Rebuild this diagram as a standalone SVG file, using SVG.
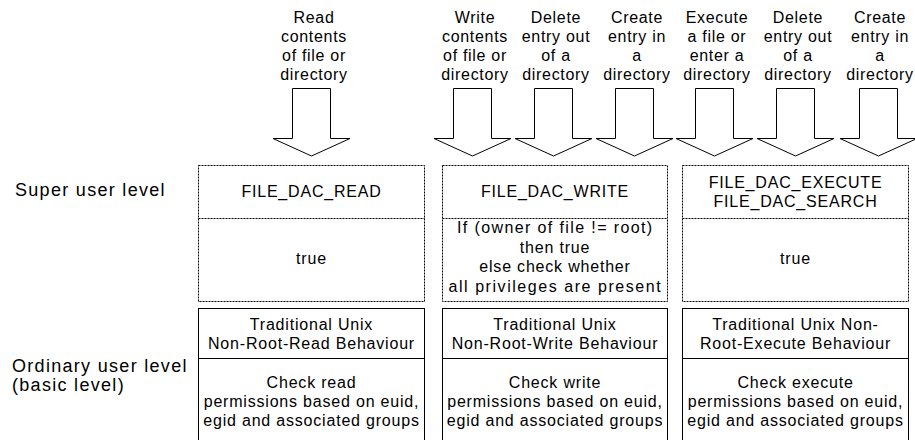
<svg xmlns="http://www.w3.org/2000/svg" width="915" height="440" viewBox="0 0 915 440">
  <style>
    text { font-family: "Liberation Sans", Arial, sans-serif; fill: #000; text-anchor: middle; }
    .op { font-size: 16px; letter-spacing: 0.7px; }
    .bx { font-size: 16px; letter-spacing: 0.8px; }
    .row { font-size: 18px; letter-spacing: 1.3px; text-anchor: start; }
    .dash { fill: #fff; stroke: #000; stroke-width: 1; stroke-dasharray: 2 1; }
    .dline { fill: none; stroke: #000; stroke-width: 1; stroke-dasharray: 2 1; }
    .solid { fill: #fff; stroke: #000; stroke-width: 1; }
    .sline { fill: none; stroke: #000; stroke-width: 1; }
    .arrow { fill: #fff; stroke: #000; stroke-width: 1; stroke-linejoin: miter; }
  </style>
  <defs>
    <!-- block arrow, centred on x = 0 -->
    <path id="blockArrow" d="M-19,88.5 H19 V138.5 H38.5 L0,156 L-38.5,138.5 H-19 Z"/>
  </defs>

  <rect width="915" height="440" fill="#fff"/>

  <!-- row captions -->
  <g id="row-super">
    <text class="row" x="15" y="196">Super user level</text>
  </g>
  <g id="row-basic">
    <text class="row" x="12" y="372">Ordinary user level</text>
    <text class="row" x="12" y="391">(basic level)</text>
  </g>

  <!-- operation labels -->
  <g id="op-read">
    <text class="op" x="314" y="23">Read</text>
    <text class="op" x="314" y="42">contents</text>
    <text class="op" x="314" y="61">of file or</text>
    <text class="op" x="314" y="80">directory</text>
  </g>
  <g id="op-write">
    <text class="op" x="475" y="23">Write</text>
    <text class="op" x="475" y="42">contents</text>
    <text class="op" x="475" y="61">of file or</text>
    <text class="op" x="475" y="80">directory</text>
  </g>
  <g id="op-delete-w">
    <text class="op" x="556" y="23">Delete</text>
    <text class="op" x="556" y="42">entry out</text>
    <text class="op" x="556" y="61">of a</text>
    <text class="op" x="556" y="80">directory</text>
  </g>
  <g id="op-create-w">
    <text class="op" x="637" y="23">Create</text>
    <text class="op" x="637" y="42">entry in</text>
    <text class="op" x="637" y="61">a</text>
    <text class="op" x="637" y="80">directory</text>
  </g>
  <g id="op-execute">
    <text class="op" x="717" y="23">Execute</text>
    <text class="op" x="717" y="42">a file or</text>
    <text class="op" x="717" y="61">enter a</text>
    <text class="op" x="717" y="80">directory</text>
  </g>
  <g id="op-delete-x">
    <text class="op" x="798" y="23">Delete</text>
    <text class="op" x="798" y="42">entry out</text>
    <text class="op" x="798" y="61">of a</text>
    <text class="op" x="798" y="80">directory</text>
  </g>
  <g id="op-create-x">
    <text class="op" x="880" y="23">Create</text>
    <text class="op" x="880" y="42">entry in</text>
    <text class="op" x="880" y="61">a</text>
    <text class="op" x="880" y="80">directory</text>
  </g>

  <!-- block arrows from operations into the privilege boxes -->
  <g id="connectors" class="arrow">
    <use href="#blockArrow" x="311.5"/>
    <use href="#blockArrow" x="472.5"/>
    <use href="#blockArrow" x="553.5"/>
    <use href="#blockArrow" x="634.5"/>
    <use href="#blockArrow" x="714.5"/>
    <use href="#blockArrow" x="795.5"/>
    <use href="#blockArrow" x="878.5"/>
  </g>

  <!-- super user level (dotted) -->
  <g id="su-read">
    <rect class="dash" x="198.5" y="165.5" width="226" height="136"/>
    <line class="dline" x1="198.5" y1="218.5" x2="424.5" y2="218.5"/>
    <text class="bx" x="311.5" y="197" letter-spacing="1.1">FILE_DAC_READ</text>
    <text class="bx" x="311.5" y="264">true</text>
  </g>
  <g id="su-write">
    <rect class="dash" x="442.5" y="165.5" width="225" height="136"/>
    <line class="dline" x1="442.5" y1="218.5" x2="667.5" y2="218.5"/>
    <text class="bx" x="555" y="197" letter-spacing="1.1">FILE_DAC_WRITE</text>
    <text class="bx" x="555" y="233" textLength="196" lengthAdjust="spacing">If (owner of file != root)</text>
    <text class="bx" x="555" y="253">then true</text>
    <text class="bx" x="555" y="272">else check whether</text>
    <text class="bx" x="555" y="292" textLength="213" lengthAdjust="spacing">all privileges are present</text>
  </g>
  <g id="su-execute">
    <rect class="dash" x="682.5" y="165.5" width="226" height="136"/>
    <line class="dline" x1="682.5" y1="218.5" x2="908.5" y2="218.5"/>
    <text class="bx" x="795.5" y="188" letter-spacing="1.1">FILE_DAC_EXECUTE</text>
    <text class="bx" x="795.5" y="207" letter-spacing="1.1">FILE_DAC_SEARCH</text>
    <text class="bx" x="795.5" y="264">true</text>
  </g>

  <!-- ordinary user level (solid) -->
  <g id="basic-read">
    <rect class="solid" x="198.5" y="308.5" width="226" height="140"/>
    <line class="sline" x1="198.5" y1="358.5" x2="424.5" y2="358.5"/>
    <text class="bx" x="311.5" y="330">Traditional Unix</text>
    <text class="bx" x="311.5" y="349">Non-Root-Read Behaviour</text>
    <text class="bx" x="311.5" y="388">Check read</text>
    <text class="bx" x="311.5" y="407">permissions based on euid,</text>
    <text class="bx" x="311.5" y="426">egid and associated groups</text>
  </g>
  <g id="basic-write">
    <rect class="solid" x="442.5" y="308.5" width="225" height="140"/>
    <line class="sline" x1="442.5" y1="358.5" x2="667.5" y2="358.5"/>
    <text class="bx" x="555" y="330">Traditional Unix</text>
    <text class="bx" x="555" y="349">Non-Root-Write Behaviour</text>
    <text class="bx" x="555" y="388">Check write</text>
    <text class="bx" x="555" y="407">permissions based on euid,</text>
    <text class="bx" x="555" y="426">egid and associated groups</text>
  </g>
  <g id="basic-execute">
    <rect class="solid" x="682.5" y="308.5" width="226" height="140"/>
    <line class="sline" x1="682.5" y1="358.5" x2="908.5" y2="358.5"/>
    <text class="bx" x="795.5" y="330">Traditional Unix Non-</text>
    <text class="bx" x="795.5" y="349">Root-Execute Behaviour</text>
    <text class="bx" x="795.5" y="388">Check execute</text>
    <text class="bx" x="795.5" y="407">permissions based on euid,</text>
    <text class="bx" x="795.5" y="426">egid and associated groups</text>
  </g>
</svg>
